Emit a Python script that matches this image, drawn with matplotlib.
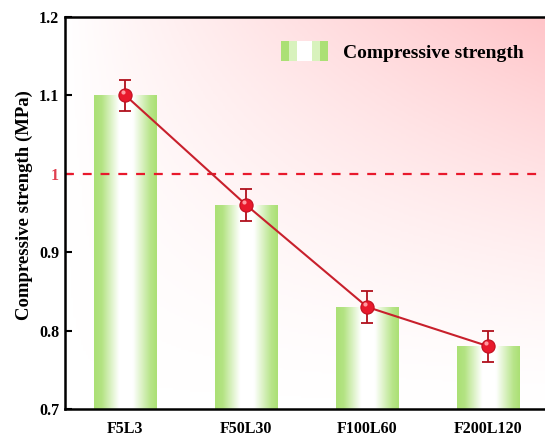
import numpy as np
import matplotlib.pyplot as plt
from matplotlib.patches import Rectangle
from matplotlib.legend_handler import HandlerBase
from matplotlib.colors import LinearSegmentedColormap

plt.rcParams['font.family'] = 'Liberation Serif'
plt.rcParams['font.weight'] = 'bold'

groups = ['F5L3', 'F50L30', 'F100L60', 'F200L120']
strength = [1.10, 0.96, 0.83, 0.78]
err = [0.02, 0.02, 0.02, 0.02]
ref_level = 1.0

green = '#abe075'
red = '#e8192c'

fig = plt.figure(figsize=(5.45, 4.41), dpi=100)
ax = fig.add_axes([0.119, 0.0726, 0.888, 0.889])
ax.set_xlim(-0.5, 3.5)
ax.set_ylim(0.7, 1.2)

# pink background, fading to white towards the left and the bottom
gx = np.linspace(0, 1, 200)
gy = np.linspace(0, 1, 200)
GX, GY = np.meshgrid(gx, gy)
amt = np.clip(GX ** 0.9 * GY ** 1.4, 0, 1)
bg_cmap = LinearSegmentedColormap.from_list('bg', ['#ffffff', '#ffc4c8'])
ax.imshow(amt, cmap=bg_cmap, vmin=0, vmax=1, origin='lower', aspect='auto',
          extent=(-0.5, 3.5, 0.7, 1.2), zorder=0)

# green-white-green gradient bars
bar_cmap = LinearSegmentedColormap.from_list('bar', [green, '#ffffff'])
t = np.linspace(0, 1, 100)
profile = np.clip(np.interp(t, [0, 0.12, 0.4, 0.62, 0.9, 1], [0, 0.1, 1, 1, 0.15, 0]), 0, 1)
w = 0.52
for i, v in enumerate(strength):
    ax.imshow(profile[None, :], cmap=bar_cmap, vmin=0, vmax=1, aspect='auto',
              extent=(i - w / 2, i + w / 2, 0.7, v), zorder=1)

ax.axhline(ref_level, color=red, lw=1.6, ls=(0, (4, 4)), zorder=2)

x = np.arange(len(groups))
ax.plot(x, strength, color='#c8202c', lw=1.5, zorder=3)
ax.errorbar(x, strength, yerr=err, fmt='none', ecolor='#b0101c', elinewidth=1.3,
            capsize=4, capthick=1.3, zorder=4)
ax.plot(x, strength, 'o', ms=9.5, color=red, mec='#c01020', mew=0.8, zorder=5)
ax.plot(x - 0.02, np.array(strength) + 0.004, 'o', ms=3, color='#ff9aa0', mew=0, zorder=6)


class BarHandler(HandlerBase):
    def create_artists(self, legend, orig_handle, xd, yd, width, height, fontsize, trans):
        parts = []
        cols = [green, '#d8f2bd', '#ffffff', '#ffffff', '#d8f2bd', green]
        step = width / len(cols)
        for k, c in enumerate(cols):
            r = Rectangle((-xd + k * step, -yd - 2), step + 0.3, height + 4,
                          facecolor=c, edgecolor='none', transform=trans)
            parts.append(r)
        return parts


leg = ax.legend([Rectangle((0, 0), 1, 1)], ['Compressive strength'], handler_map={Rectangle: BarHandler()},
                loc='upper right', bbox_to_anchor=(0.985, 0.975), frameon=False,
                prop={'family': 'Liberation Serif', 'weight': 'bold', 'size': 14},
                handlelength=2.4, handletextpad=0.8)

ax.set_xticks(x)
ax.set_xticklabels(groups)
ax.set_yticks([0.7, 0.8, 0.9, 1.0, 1.1, 1.2])
ax.set_yticklabels(['0.7', '0.8', '0.9', '1', '1.1', '1.2'])
ax.get_yticklabels()[3].set_color('#e04050')
ax.tick_params(axis='x', length=0, pad=9, labelsize=11.5)
ax.tick_params(axis='y', direction='in', length=5, width=1.5, labelsize=11.5, pad=4)
ax.set_ylabel('Compressive strength (MPa)', fontsize=13.5, fontweight='bold')
ax.yaxis.set_label_coords(-0.066, 0.52)

for s in ['left', 'bottom', 'top']:
    ax.spines[s].set_linewidth(1.8)
ax.spines['right'].set_visible(False)

plt.savefig('out.png', dpi=100)
